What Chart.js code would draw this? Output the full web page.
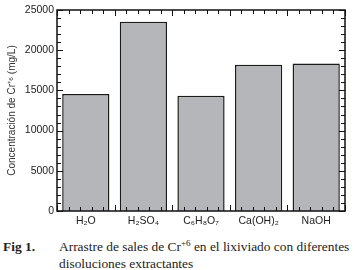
<!DOCTYPE html>
<html>
<head>
<meta charset="utf-8">
<script src="https://cdn.jsdelivr.net/npm/chart.js@4.4.0/dist/chart.umd.min.js"></script>
<style>
  body { margin: 0; background: #fff; width: 354px; height: 270px; overflow: hidden; }
  #wrap { position: absolute; left: 0; top: 0; width: 354px; height: 230px; }
  .caption { position: absolute; left: 0; top: 238px; width: 354px; font-family: "Liberation Serif", "DejaVu Serif", serif; font-size: 13.4px; color: #222; line-height: 17px; }
  .caption b { position: absolute; left: 3px; top: 0; }
  .caption span { position: absolute; left: 59px; top: 0; white-space: nowrap; }
  .caption sup { font-size: 9px; vertical-align: 5px; line-height: 0; }
</style>
</head>
<body>
<div id="wrap"><canvas id="chart" width="354" height="230"></canvas></div>
<div class="caption">
  <b>Fig 1.</b>
  <span>Arrastre de sales de Cr<sup>+6</sup> en el lixiviado con diferentes<br>disoluciones extractantes</span>
</div>
<script>
// Data
const categories = ['H\u2082O', 'H\u2082SO\u2084', 'C\u2086H\u2088O\u2087', 'Ca(OH)\u2082', 'NaOH'];
const concentration = [14550, 23550, 14350, 18200, 18350];
const yTicks = [0, 5000, 10000, 15000, 20000, 25000];

// inward tick marks on all four sides of the frame
const frameTicks = {
  id: 'frameTicks',
  afterDatasetsDraw(chart) {
    const ctx = chart.ctx;
    const x = chart.scales.x, y = chart.scales.y;
    const left = x.left, right = x.right, top = y.top, bottom = y.bottom;
    ctx.save();
    ctx.strokeStyle = '#111';
    ctx.lineWidth = 1;
    ctx.beginPath();
    for (let v = 0; v <= 25000; v += 1000) {
      const py = Math.round(y.getPixelForValue(v)) + 0.5;
      const len = v % 5000 === 0 ? 6 : 4;
      ctx.moveTo(left, py); ctx.lineTo(left + len, py);
      ctx.moveTo(right, py); ctx.lineTo(right - len, py);
    }
    const n = categories.length;
    const w = right - left;
    for (let i = 0; i <= n * 5; i++) {
      const px = Math.round(left + w * i / (n * 5)) + 0.5;
      const len = i % 5 === 0 ? 6 : 4;
      ctx.moveTo(px, top); ctx.lineTo(px, top + len);
      ctx.moveTo(px, bottom); ctx.lineTo(px, bottom - len);
    }
    ctx.stroke();
    ctx.lineWidth = 1.5;
    ctx.strokeRect(left, top, w, bottom - top);
    ctx.restore();
  }
};

const font = { family: 'Liberation Sans, Arial, sans-serif', size: 10.5 };

new Chart(document.getElementById('chart'), {
  type: 'bar',
  data: {
    labels: categories,
    datasets: [{
      data: concentration,
      backgroundColor: '#b5b6b9',
      borderColor: '#1a1a1a',
      borderWidth: 1.5,
      barPercentage: 0.82,
      categoryPercentage: 1
    }]
  },
  options: {
    responsive: false,
    animation: false,
    layout: { padding: { left: 0, right: 9, top: 10, bottom: 0 } },
    plugins: { legend: { display: false }, tooltip: { enabled: false } },
    scales: {
      x: {
        grid: { display: false, drawTicks: false, tickLength: 0 },
        border: { display: false },
        ticks: { color: '#222', font, padding: 4 },
        afterFit(scale) { scale.height = 19; }
      },
      y: {
        min: 0,
        max: 25000,
        afterBuildTicks(scale) { scale.ticks = yTicks.map(v => ({ value: v })); },
        grid: { display: false, drawTicks: false, tickLength: 0 },
        border: { display: false },
        ticks: { color: '#222', font, padding: 3, callback: v => String(v) },
        title: {
          display: true,
          text: 'Concentración de Cr\u207A\u2076 (mg/L)',
          color: '#333',
          font: { family: 'Liberation Sans, Arial, sans-serif', size: 10 },
          padding: { top: 6, bottom: 2 }
        },
        afterFit(scale) { scale.width = 57; }
      }
    }
  },
  plugins: [frameTicks]
});
</script>
</body>
</html>
